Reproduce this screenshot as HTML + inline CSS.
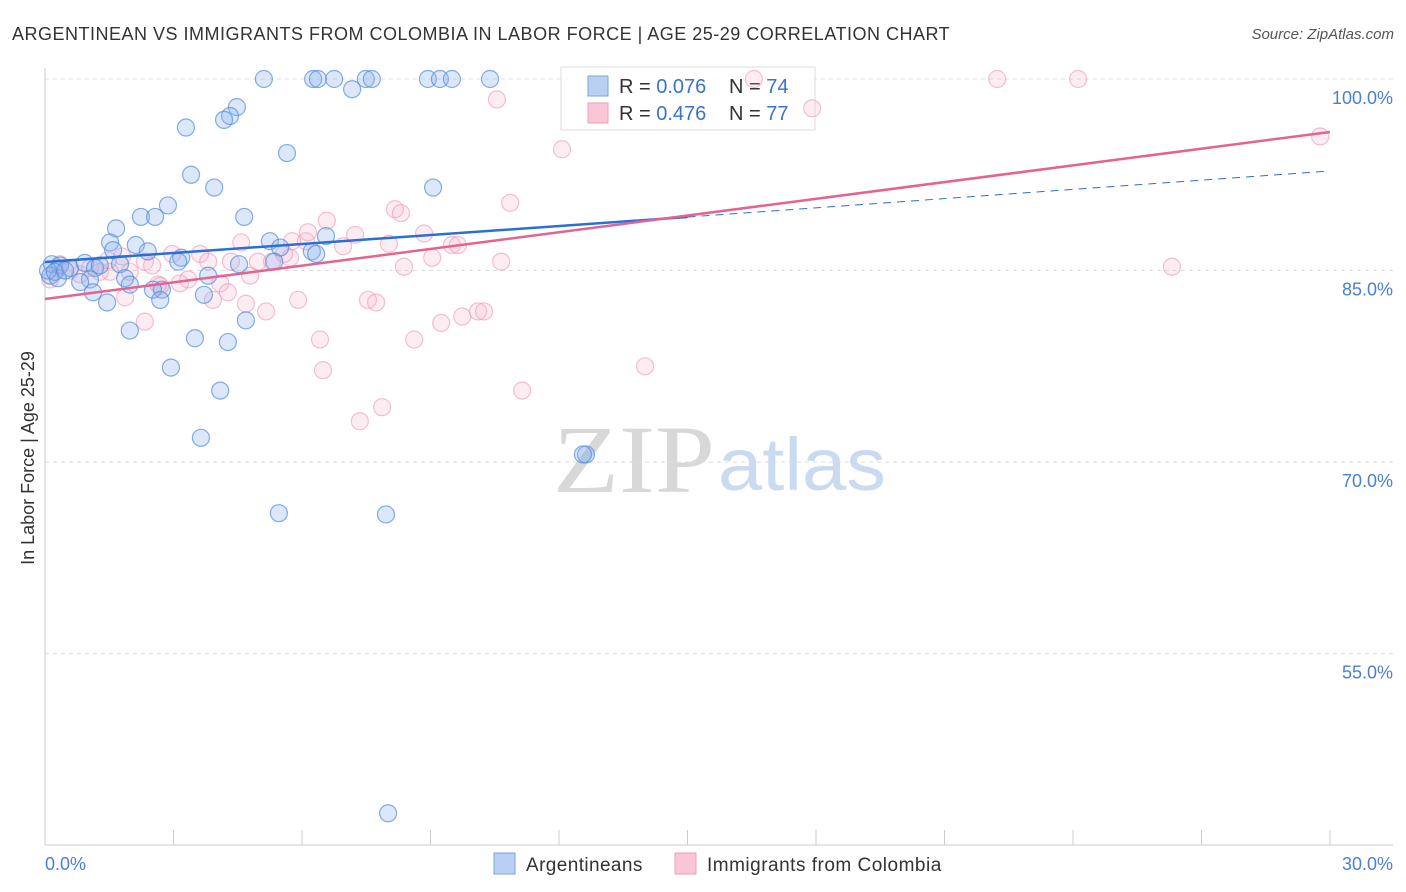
<!DOCTYPE html>
<html><head><meta charset="utf-8"><style>
body{margin:0;background:#fff;font-family:"Liberation Sans",sans-serif}
svg{display:block}
</style></head><body>
<svg id="chart" width="1406" height="892">
<text x="12" y="40" font-size="18" fill="#333" letter-spacing="0.5">ARGENTINEAN VS IMMIGRANTS FROM COLOMBIA IN LABOR FORCE | AGE 25-29 CORRELATION CHART</text>
<text x="1394" y="39" font-size="15" fill="#555" font-style="italic" text-anchor="end">Source: ZipAtlas.com</text>
<text x="553" y="492" font-size="96" fill="#d8d8d8" font-family="Liberation Serif" textLength="162" lengthAdjust="spacingAndGlyphs">ZIP</text>
<text x="718" y="490" font-size="74" fill="#c9daf1" textLength="168" lengthAdjust="spacingAndGlyphs">atlas</text>
<g id="grid"></g><g id="axes"></g>
<g>
<rect x="561" y="67" width="254" height="63" fill="#fff" fill-opacity="0.85" stroke="#ddd"/>
<rect x="588" y="76" width="20" height="20" fill="#b9d0f3" stroke="#7aa3e3"/>
<rect x="588" y="103" width="20" height="20" fill="#fac6d6" stroke="#ee9fbb"/>
<text x="619" y="93" font-size="20" fill="#333">R = <tspan fill="#3a73cc">0.076</tspan></text>
<text x="729" y="93" font-size="20" fill="#333">N = <tspan fill="#3a73cc">74</tspan></text>
<text x="619" y="120" font-size="20" fill="#333">R = <tspan fill="#3a73cc">0.476</tspan></text>
<text x="729" y="120" font-size="20" fill="#333">N = <tspan fill="#3a73cc">77</tspan></text>
</g>
<g id="pts"></g><g id="lines"></g>
<text transform="translate(34,458) rotate(-90)" font-size="18" fill="#333" text-anchor="middle">In Labor Force | Age 25-29</text>
<text x="45" y="870" font-size="18" fill="#4a7fd4">0.0%</text>
<text x="1393" y="870" font-size="18" fill="#4a7fd4" text-anchor="end">30.0%</text>
<g>
<rect x="494" y="853" width="21" height="21" fill="#b9d0f3" stroke="#7aa3e3"/>
<text x="526" y="871" font-size="19" fill="#333" letter-spacing="0.4">Argentineans</text>
<rect x="675" y="853" width="21" height="21" fill="#fac6d6" stroke="#ee9fbb"/>
<text x="707" y="871" font-size="19" fill="#333" letter-spacing="0.5">Immigrants from Colombia</text>
</g>
</svg>
<script>
const yTicks=[100,85,70,55];
const yTickLabels=["100.0%","85.0%","70.0%","55.0%"];
const xTicks=[0,3,6,9,12,15,18,21,24,27,30];
const blueX=[5.11,6.26,6.37,6.75,7.49,7.63,8.94,9.22,9.50,10.39,7.17,4.48,4.32,4.18,3.29,5.65,3.41,3.95,9.06,2.87,2.24,2.57,4.65,1.66,1.52,2.12,2.40,1.59,5.25,6.56,5.49,6.23,6.33,3.18,3.11,4.53,5.35,0.16,0.35,0.58,0.93,1.17,1.28,1.75,0.12,0.30,1.05,0.82,1.87,1.98,2.73,2.52,3.81,1.12,3.71,1.45,2.69,4.69,1.98,3.50,4.27,2.94,4.09,3.64,12.63,5.46,7.96,8.01,0.07,0.23,0.47,12.56];
const blueY=[100,100,100,100,100,100,100,100,100,100,99.2,97.8,97.1,96.8,96.2,94.2,92.5,91.5,91.5,90.1,89.2,89.2,89.2,88.3,87.2,87.0,86.5,86.6,87.3,87.7,86.8,86.5,86.3,86.0,85.7,85.5,85.7,85.5,85.4,85.2,85.6,85.2,85.4,85.5,84.6,84.4,84.3,84.1,84.4,83.9,83.5,83.5,84.6,83.3,83.1,82.5,82.7,81.1,80.3,79.7,79.4,77.4,75.6,71.9,70.6,66.0,65.9,42.5,85.0,84.9,85.0,70.6];
const pinkX=[16.55,22.23,24.12,10.55,17.91,12.07,29.77,10.86,8.17,8.31,6.58,7.24,4.58,6.09,5.77,8.85,9.50,9.64,8.03,6.96,6.14,2.97,3.62,3.81,4.34,4.97,5.30,5.72,5.58,1.80,2.33,9.04,10.65,8.38,26.31,2.50,1.52,1.98,1.28,0.35,0.58,0.82,2.64,3.34,3.15,4.09,4.79,4.27,1.87,3.92,5.91,4.69,5.16,7.54,7.73,10.11,10.25,9.74,9.25,2.33,6.42,8.62,14.01,6.49,11.14,7.87,7.35,0.12,0.30,1.05,2.69,1.47];
const pinkY=[100,100,100,98.4,97.7,94.5,95.5,90.3,89.8,89.5,88.9,87.8,87.2,87.3,87.3,87.9,87.0,87.0,87.1,86.9,88.0,86.3,86.3,85.7,85.7,85.7,85.7,86.0,86.3,86.1,85.7,86.0,85.7,85.3,85.3,85.4,84.9,84.9,84.9,85.5,85.0,84.7,83.9,84.3,84.0,84.0,84.6,83.3,82.9,82.7,82.7,82.4,81.8,82.7,82.5,81.8,81.8,81.4,80.9,81.0,79.6,79.6,77.5,77.2,75.6,74.3,73.2,84.3,85.2,85.2,83.8,85.8];
const blueTrend=[85.67,89.19,92.8];
const blueTrendX=[0,15,30];
const pinkTrend=[82.77,95.85];
const pinkTrendX=[0,30];

const NS="http://www.w3.org/2000/svg";
const X=v=>45+v*(1285/30);
const Y=v=>79+(100-v)*12.77;
function mk(tag,attrs,parent){const e=document.createElementNS(NS,tag);for(const k in attrs)e.setAttribute(k,attrs[k]);document.getElementById(parent).appendChild(e);return e;}

yTicks.forEach((t,i)=>{
  const g=mk('line',{x1:45,x2:1393,y1:Y(t),y2:Y(t),stroke:'#ddd','stroke-dasharray':'4,4'},'grid');
  
  
  const l=mk('text',{x:1393,y:Y(t)+25,'font-size':18,fill:'#4a7fd4','text-anchor':'end'},'grid');
  l.textContent=yTickLabels[i];
  
  
});
const ya=mk('line',{x1:45,x2:45,y1:68,y2:845,stroke:'#ccc'},'axes');


const xa=mk('line',{x1:45,x2:1393,y1:845,y2:845,stroke:'#ccc'},'axes');


xTicks.forEach(t=>{
  const k=mk('line',{x1:X(t),x2:X(t),y1:830,y2:845,stroke:'#ccc'},'axes');
  
  
});
function dots(xs,ys,fill,stroke,name){
  xs.forEach((x,i)=>{
    const c=mk('circle',{cx:X(x),cy:Y(ys[i]),r:8.5,fill:fill,stroke:stroke,'stroke-width':1.2},'pts');
    
    
  });
}
dots(pinkX,pinkY,'rgba(248,175,200,0.22)','rgba(236,150,180,0.6)','colombia-point');
dots(blueX,blueY,'rgba(140,180,240,0.3)','rgba(80,140,220,0.7)','argentinean-point');
const b1=mk('line',{x1:X(blueTrendX[0]),y1:Y(blueTrend[0]),x2:X(blueTrendX[1]),y2:Y(blueTrend[1]),stroke:'#2a6fd6','stroke-width':2.5},'lines');


const b2=mk('line',{x1:X(blueTrendX[1]),y1:Y(blueTrend[1]),x2:X(blueTrendX[2]),y2:Y(blueTrend[2]),stroke:'#2a6fd6','stroke-width':1,'stroke-dasharray':'8,6'},'lines');


const p1=mk('line',{x1:X(pinkTrendX[0]),y1:Y(pinkTrend[0]),x2:X(pinkTrendX[1]),y2:Y(pinkTrend[1]),stroke:'#e4638f','stroke-width':2.5},'lines');


</script>
</body></html>
